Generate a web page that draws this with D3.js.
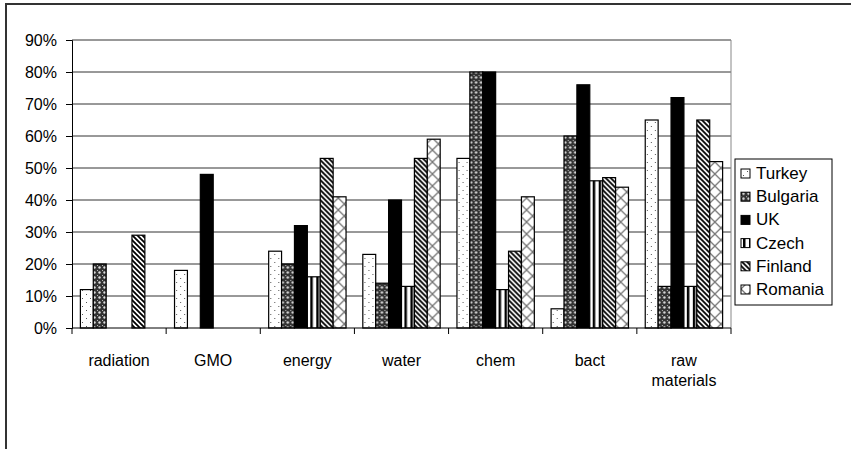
<!DOCTYPE html>
<meta charset="utf-8">
<style>
body { margin: 0; background: #fff; }
text { font-family: "Liberation Sans", Arial, sans-serif; fill: #000; }
</style>
<svg width="851" height="449"></svg>
<script src="https://d3js.org/d3.v7.min.js"></script>
<script>

var categories = ["radiation", "GMO", "energy", "water", "chem", "bact", "raw materials"];
var countries = ["Turkey", "Bulgaria", "UK", "Czech", "Finland", "Romania"];

// values in %, one array per country, in category order
var turkey   = [12, 18, 24, 23, 53,  6, 65];
var bulgaria = [20,  0, 20, 14, 80, 60, 13];
var uk       = [ 0, 48, 32, 40, 80, 76, 72];
var czech    = [ 0,  0, 16, 13, 12, 46, 13];
var finland  = [29,  0, 53, 53, 24, 47, 65];
var romania  = [ 0,  0, 41, 59, 41, 44, 52];

var yTicks = [0, 10, 20, 30, 40, 50, 60, 70, 80, 90];

var series = [turkey, bulgaria, uk, czech, finland, romania];

var svg = d3.select("svg");

// outer chart border (cut off at right / bottom)
svg.append("rect")
    .attr("x", 6).attr("y", 4)
    .attr("width", 1000).attr("height", 1000)
    .attr("fill", "none")
    .attr("stroke", "#333")
    .attr("stroke-width", 2);

var defs = svg.append("defs");

// fill patterns, roughly like the old excel ones
var p;
p = defs.append("pattern").attr("id", "pat0").attr("patternUnits", "userSpaceOnUse")
    .attr("width", 8).attr("height", 8);
p.append("rect").attr("width", 8).attr("height", 8).attr("fill", "#fff");
p.append("rect").attr("x", 2).attr("y", 2).attr("width", 1).attr("height", 1).attr("fill", "#555");
p.append("rect").attr("x", 6).attr("y", 6).attr("width", 1).attr("height", 1).attr("fill", "#555");

p = defs.append("pattern").attr("id", "pat1").attr("patternUnits", "userSpaceOnUse")
    .attr("width", 5).attr("height", 5);
p.append("rect").attr("width", 5).attr("height", 5).attr("fill", "#333");
p.append("circle").attr("cx", 2.5).attr("cy", 2.5).attr("r", 1.2).attr("fill", "#ddd");
p.append("rect").attr("x", 0).attr("y", 0).attr("width", 1).attr("height", 1).attr("fill", "#bbb");

p = defs.append("pattern").attr("id", "pat3").attr("patternUnits", "userSpaceOnUse")
    .attr("width", 6).attr("height", 6);
p.append("rect").attr("width", 6).attr("height", 6).attr("fill", "#fff");
p.append("rect").attr("x", 2).attr("width", 2.5).attr("height", 6).attr("fill", "#000");

p = defs.append("pattern").attr("id", "pat4").attr("patternUnits", "userSpaceOnUse")
    .attr("width", 5).attr("height", 5);
p.append("rect").attr("width", 5).attr("height", 5).attr("fill", "#fff");
p.append("path").attr("d", "M-1,-1L6,6M-1,4L1,6M4,-1L6,1").attr("stroke", "#000").attr("stroke-width", 1.8);

p = defs.append("pattern").attr("id", "pat5").attr("patternUnits", "userSpaceOnUse")
    .attr("width", 12).attr("height", 12);
p.append("rect").attr("width", 12).attr("height", 12).attr("fill", "#fff");
p.append("path").attr("d", "M0,0L12,12M12,0L0,12").attr("stroke", "#777").attr("stroke-width", 1.3);

var fills = ["url(#pat0)", "url(#pat1)", "#000", "url(#pat3)", "url(#pat4)", "url(#pat5)"];

// plot area (note: "top" is taken by window.top)
var pL = 72, pR = 731, pT = 40, pB = 328;

var x = d3.scaleBand().domain(categories).range([pL, pR]);
var x1 = d3.scaleBand().domain(countries)
    .range([0, x.bandwidth()]).paddingOuter(0.65).paddingInner(0);
var y = d3.scaleLinear().domain([0, 90]).range([pB, pT]);

// gridlines
svg.append("g").selectAll("line").data(yTicks.slice(1)).join("line")
    .attr("x1", pL).attr("x2", pR)
    .attr("y1", d => y(d)).attr("y2", d => y(d))
    .attr("stroke", "#333").attr("stroke-width", 1);
svg.append("line")
    .attr("x1", pR).attr("x2", pR).attr("y1", pT).attr("y2", pB)
    .attr("stroke", "#888");

// bars
var groups = svg.append("g").selectAll("g").data(categories).join("g")
    .attr("transform", d => "translate(" + x(d) + ",0)");

groups.selectAll("rect")
    .data((c, i) => countries.map((k, j) => ({k: k, j: j, v: series[j][i]})).filter(d => d.v > 0))
    .join("rect")
    .attr("x", d => x1(d.k))
    .attr("width", x1.bandwidth())
    .attr("y", d => y(d.v))
    .attr("height", d => y(0) - y(d.v))
    .attr("fill", d => fills[d.j])
    .attr("stroke", "#000")
    .attr("stroke-width", 1.2);

// axes
var yAxis = d3.axisLeft(y).tickValues(yTicks).tickSize(6).tickPadding(9).tickFormat(d => d + "%");
svg.append("g").attr("transform", "translate(" + pL + ",0)").call(yAxis)
    .call(g => g.selectAll("text").attr("font-size", 16).attr("font-family", null))
    .call(g => g.selectAll("line,path").attr("stroke", "#000"));

var xAxis = svg.append("g");
xAxis.append("line").attr("x1", pL).attr("x2", pR).attr("y1", pB).attr("y2", pB).attr("stroke", "#000");
xAxis.selectAll(".tk").data(categories.concat(["end"])).join("line").attr("class", "tk")
    .attr("x1", (d, i) => pL + i * x.step()).attr("x2", (d, i) => pL + i * x.step())
    .attr("y1", pB).attr("y2", pB + 6).attr("stroke", "#000");

xAxis.selectAll(".lbl").data(categories).join("text").attr("class", "lbl")
    .attr("text-anchor", "middle")
    .attr("font-size", 16)
    .attr("x", d => x(d) + x.bandwidth() / 2)
    .attr("y", 366)
    .each(function (d) {
      var parts = d.split(" ");
      var t = d3.select(this);
      parts.forEach((w, i) => t.append("tspan").attr("x", x(d) + x.bandwidth() / 2).attr("dy", i ? 20 : 0).text(w));
    });

// legend
var leg = svg.append("g").attr("transform", "translate(735,159)");
leg.append("rect").attr("width", 97).attr("height", 146)
    .attr("fill", "#fff").attr("stroke", "#000");
var items = leg.selectAll("g").data(countries).join("g")
    .attr("transform", (d, i) => "translate(6," + (14 + i * 23.2) + ")");
items.append("rect").attr("x", 0).attr("y", -4).attr("width", 9).attr("height", 9)
    .attr("fill", (d, i) => fills[i]).attr("stroke", "#000");
items.append("text").attr("x", 15).attr("y", 6).attr("font-size", 17).text(d => d);

</script>
